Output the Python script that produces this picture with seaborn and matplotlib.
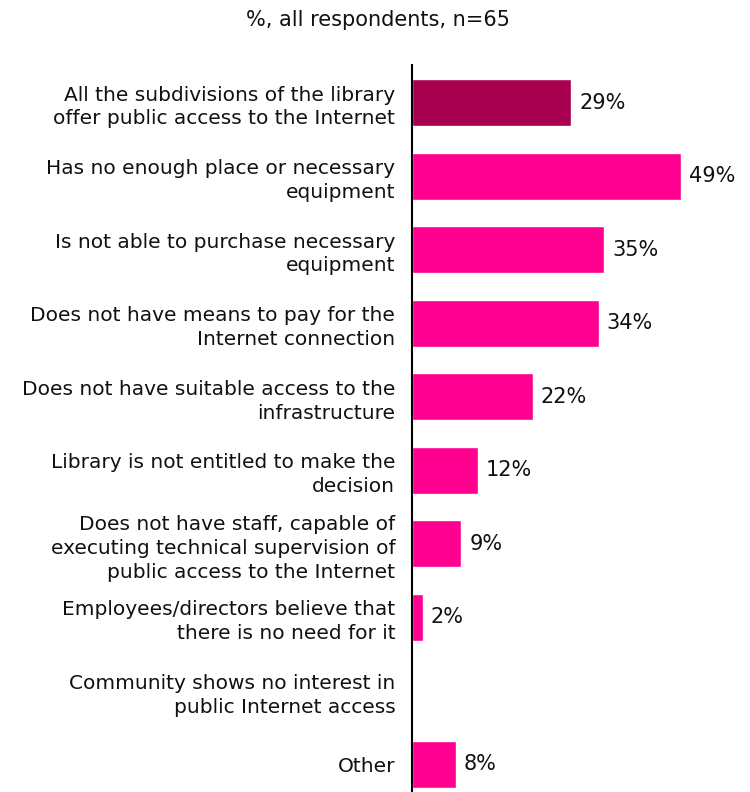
import numpy as np
import pandas as pd
import matplotlib
matplotlib.use('Agg')
import matplotlib.pyplot as plt
import seaborn as sns

# Data
categories = [
    'All the subdivisions of the library\noffer public access to the Internet',
    'Has no enough place or necessary\nequipment',
    'Is not able to purchase necessary\nequipment',
    'Does not have means to pay for the\nInternet connection',
    'Does not have suitable access to the\ninfrastructure',
    'Library is not entitled to make the\ndecision',
    'Does not have staff, capable of\nexecuting technical supervision of\npublic access to the Internet',
    'Employees/directors believe that\nthere is no need for it',
    'Community shows no interest in\npublic Internet access',
    'Other',
]
values = [29, 49, 35, 34, 22, 12, 9, 2, 0, 8]
bar_colors = ['#A8004F'] + ['#FF0090'] * 9

df = pd.DataFrame({'category': categories, 'value': values})

sns.set_style('white')
plt.rcParams['font.family'] = ['DejaVu Sans']

fig = plt.figure(figsize=(7.5, 7.92), dpi=100)
ax = fig.add_axes([412 / 750, 0, 338 / 750, 727 / 792])

sns.barplot(data=df, x='value', y='category', hue='category', palette=bar_colors,
            legend=False, width=0.64, orient='h', ax=ax, saturation=1)

# value labels (skip zero)
for i, v in enumerate(values):
    if v > 0:
        ax.text(v + 1.4, i, f'{v}%', va='center', ha='left', fontsize=15, color='#111111')

ax.set_xlim(0, 61.5)
ax.set_ylim(9.374, -0.51)
ax.set_xlabel('')
ax.set_ylabel('')
ax.set_xticks([])
ax.tick_params(axis='y', length=0, pad=12, labelsize=14.5)
for lbl in ax.get_yticklabels():
    lbl.set_linespacing(1.32)
    lbl.set_color('#111111')

for s in ['top', 'right', 'bottom']:
    ax.spines[s].set_visible(False)
ax.spines['left'].set_color('black')
ax.spines['left'].set_linewidth(1.5)

fig.text(378 / 750, 1 - 20 / 792, '%, all respondents, n=65', ha='center', va='center',
         fontsize=15, color='#111111')

fig.savefig('out.png', dpi=100)
